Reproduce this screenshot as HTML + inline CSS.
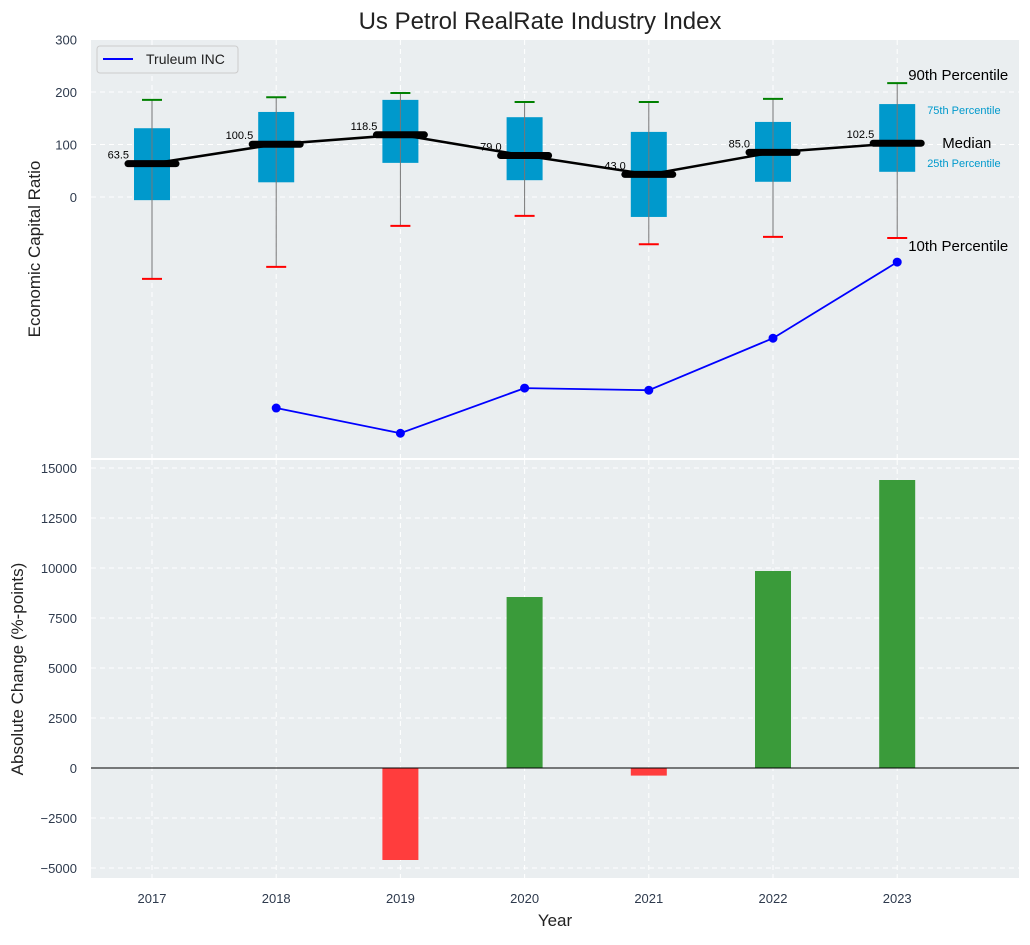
<!DOCTYPE html>
<html><head><meta charset="utf-8"><style>
body{margin:0;background:#fff;font-family:"Liberation Sans",sans-serif;}
svg text{font-family:"Liberation Sans",sans-serif;}
</style></head><body>
<svg id="c" width="1030" height="940" xmlns="http://www.w3.org/2000/svg"></svg>
<script>
const years=[2017,2018,2019,2020,2021,2022,2023];
const p90=[185,190,198,181,181,187,217];
const p75=[131,162,185,152,124,143,177];
const median=[63.5,100.5,118.5,79.0,43.0,85.0,102.5];
const p25=[-6,28,65,32,-38,29,48];
const p10=[-156,-133,-55,-36,-90,-76,-78];
const companyYears=[2018,2019,2020,2021,2022,2023];
const companyVals=[-402,-450,-364,-368,-269,-124];
const changeYears=[2019,2020,2021,2022,2023];
const changeVals=[-4600,8550,-380,9850,14400];
const topTicks=[0,100,200,300];
const botTicks=[-5000,-2500,0,2500,5000,7500,10000,12500,15000];

const NS="http://www.w3.org/2000/svg";
const svg=document.getElementById('c');
function el(tag,attrs,txt){const e=document.createElementNS(NS,tag);for(const k in attrs)e.setAttribute(k,attrs[k]);if(txt!=null)e.textContent=txt;svg.appendChild(e);return e;}
const L=91,R=1019;
const TC='#2e3a4d';
const x=yr=>152+(yr-2017)*124.2;
const yT=v=>197-v*0.525;
const yB=v=>768-v*0.02;

let t=el('text',{x:540,y:29,'font-size':24,'text-anchor':'middle',fill:'#222'},'Us Petrol RealRate Industry Index');


let p=el('rect',{x:L,y:40,width:R-L,height:418,fill:'#eaeef0'});

p=el('rect',{x:L,y:460,width:R-L,height:418,fill:'#eaeef0'});


years.forEach(yr=>{
 el('line',{x1:x(yr),x2:x(yr),y1:40,y2:458,stroke:'#fff','stroke-dasharray':'5,4','stroke-width':1});
 el('line',{x1:x(yr),x2:x(yr),y1:460,y2:878,stroke:'#fff','stroke-dasharray':'5,4','stroke-width':1});
 let tl=el('text',{x:x(yr),y:903,'font-size':13,'text-anchor':'middle',fill:TC},yr);
 
});
topTicks.forEach(v=>{
 el('line',{x1:L,x2:R,y1:yT(v),y2:yT(v),stroke:'#fff','stroke-dasharray':'5,4'});
 let tl=el('text',{x:77,y:yT(v)+5,'font-size':13,'text-anchor':'end',fill:TC},v);
 
});
botTicks.forEach(v=>{
 el('line',{x1:L,x2:R,y1:yB(v),y2:yB(v),stroke:'#fff','stroke-dasharray':'5,4'});
 let tl=el('text',{x:77,y:yB(v)+5,'font-size':13,'text-anchor':'end',fill:TC},v<0?'\u2212'+(-v):v);
 
});

years.forEach((yr,i)=>{
 const cx=x(yr);
 let b=el('rect',{x:cx-18,y:yT(p75[i]),width:36,height:yT(p25[i])-yT(p75[i]),fill:'#0099cc'});
 
 el('line',{x1:cx,x2:cx,y1:yT(p90[i]),y2:yT(p10[i]),stroke:'#777','stroke-width':1});
 let c=el('line',{x1:cx-10,x2:cx+10,y1:yT(p90[i]),y2:yT(p90[i]),stroke:'green','stroke-width':2});
 
 c=el('line',{x1:cx-10,x2:cx+10,y1:yT(p10[i]),y2:yT(p10[i]),stroke:'red','stroke-width':2});
 
});
let mp=years.map((yr,i)=>x(yr)+','+yT(median[i])).join(' ');
let ml=el('polyline',{points:mp,fill:'none',stroke:'#000','stroke-width':2.5});

years.forEach((yr,i)=>{
 const cx=x(yr),cy=yT(median[i]);
 let s=el('line',{x1:cx-24,x2:cx+24,y1:cy,y2:cy,stroke:'#000','stroke-width':7,'stroke-linecap':'round'});
 
 let tl=el('text',{x:cx-23,y:cy-5,'font-size':11,'text-anchor':'end',fill:'#000'},median[i].toFixed(1));
 
});
let cp=companyYears.map((yr,i)=>x(yr)+','+yT(companyVals[i])).join(' ');
let cl=el('polyline',{points:cp,fill:'none',stroke:'blue','stroke-width':1.8});

companyYears.forEach((yr,i)=>{
 let d=el('circle',{cx:x(yr),cy:yT(companyVals[i]),r:4.5,fill:'blue'});
 
});
const ax=x(2023);
[['90th Percentile',ax+11,yT(p90[6])-3,15,'#000'],['75th Percentile',ax+30,yT(p75[6])+10,11,'#0099cc'],
 ['Median',ax+45,yT(median[6])+5,15,'#000'],['25th Percentile',ax+30,yT(p25[6])-5,11,'#0099cc'],
 ['10th Percentile',ax+11,yT(p10[6])+13,15,'#000']].forEach(a=>{
 let tl=el('text',{x:a[1],y:a[2],'font-size':a[3],fill:a[4]},a[0]);
 
});
let lg=el('rect',{x:97,y:46,width:141,height:27,rx:3,fill:'#eaeef0',stroke:'#ccc'});

el('line',{x1:103,x2:133,y1:59,y2:59,stroke:'blue','stroke-width':2});
let lt=el('text',{x:146,y:64,'font-size':14,fill:'#222'},'Truleum INC');


changeYears.forEach((yr,i)=>{
 const v=changeVals[i];
 let b=el('rect',{x:x(yr)-18,y:Math.min(yB(v),yB(0)),width:36,height:Math.abs(yB(v)-yB(0)),fill:v>=0?'#3a9b3a':'#ff3d3d'});
 
});
el('line',{x1:L,x2:R,y1:yB(0),y2:yB(0),stroke:'#000','stroke-width':1});

let at=el('text',{x:0,y:0,'font-size':17,'text-anchor':'middle',fill:'#222',transform:'translate(40,249) rotate(-90)'},'Economic Capital Ratio');

at=el('text',{x:0,y:0,'font-size':17,'text-anchor':'middle',fill:'#222',transform:'translate(23,669) rotate(-90)'},'Absolute Change (%-points)');

at=el('text',{x:555,y:926,'font-size':17,'text-anchor':'middle',fill:'#222'},'Year');

</script>
</body></html>
